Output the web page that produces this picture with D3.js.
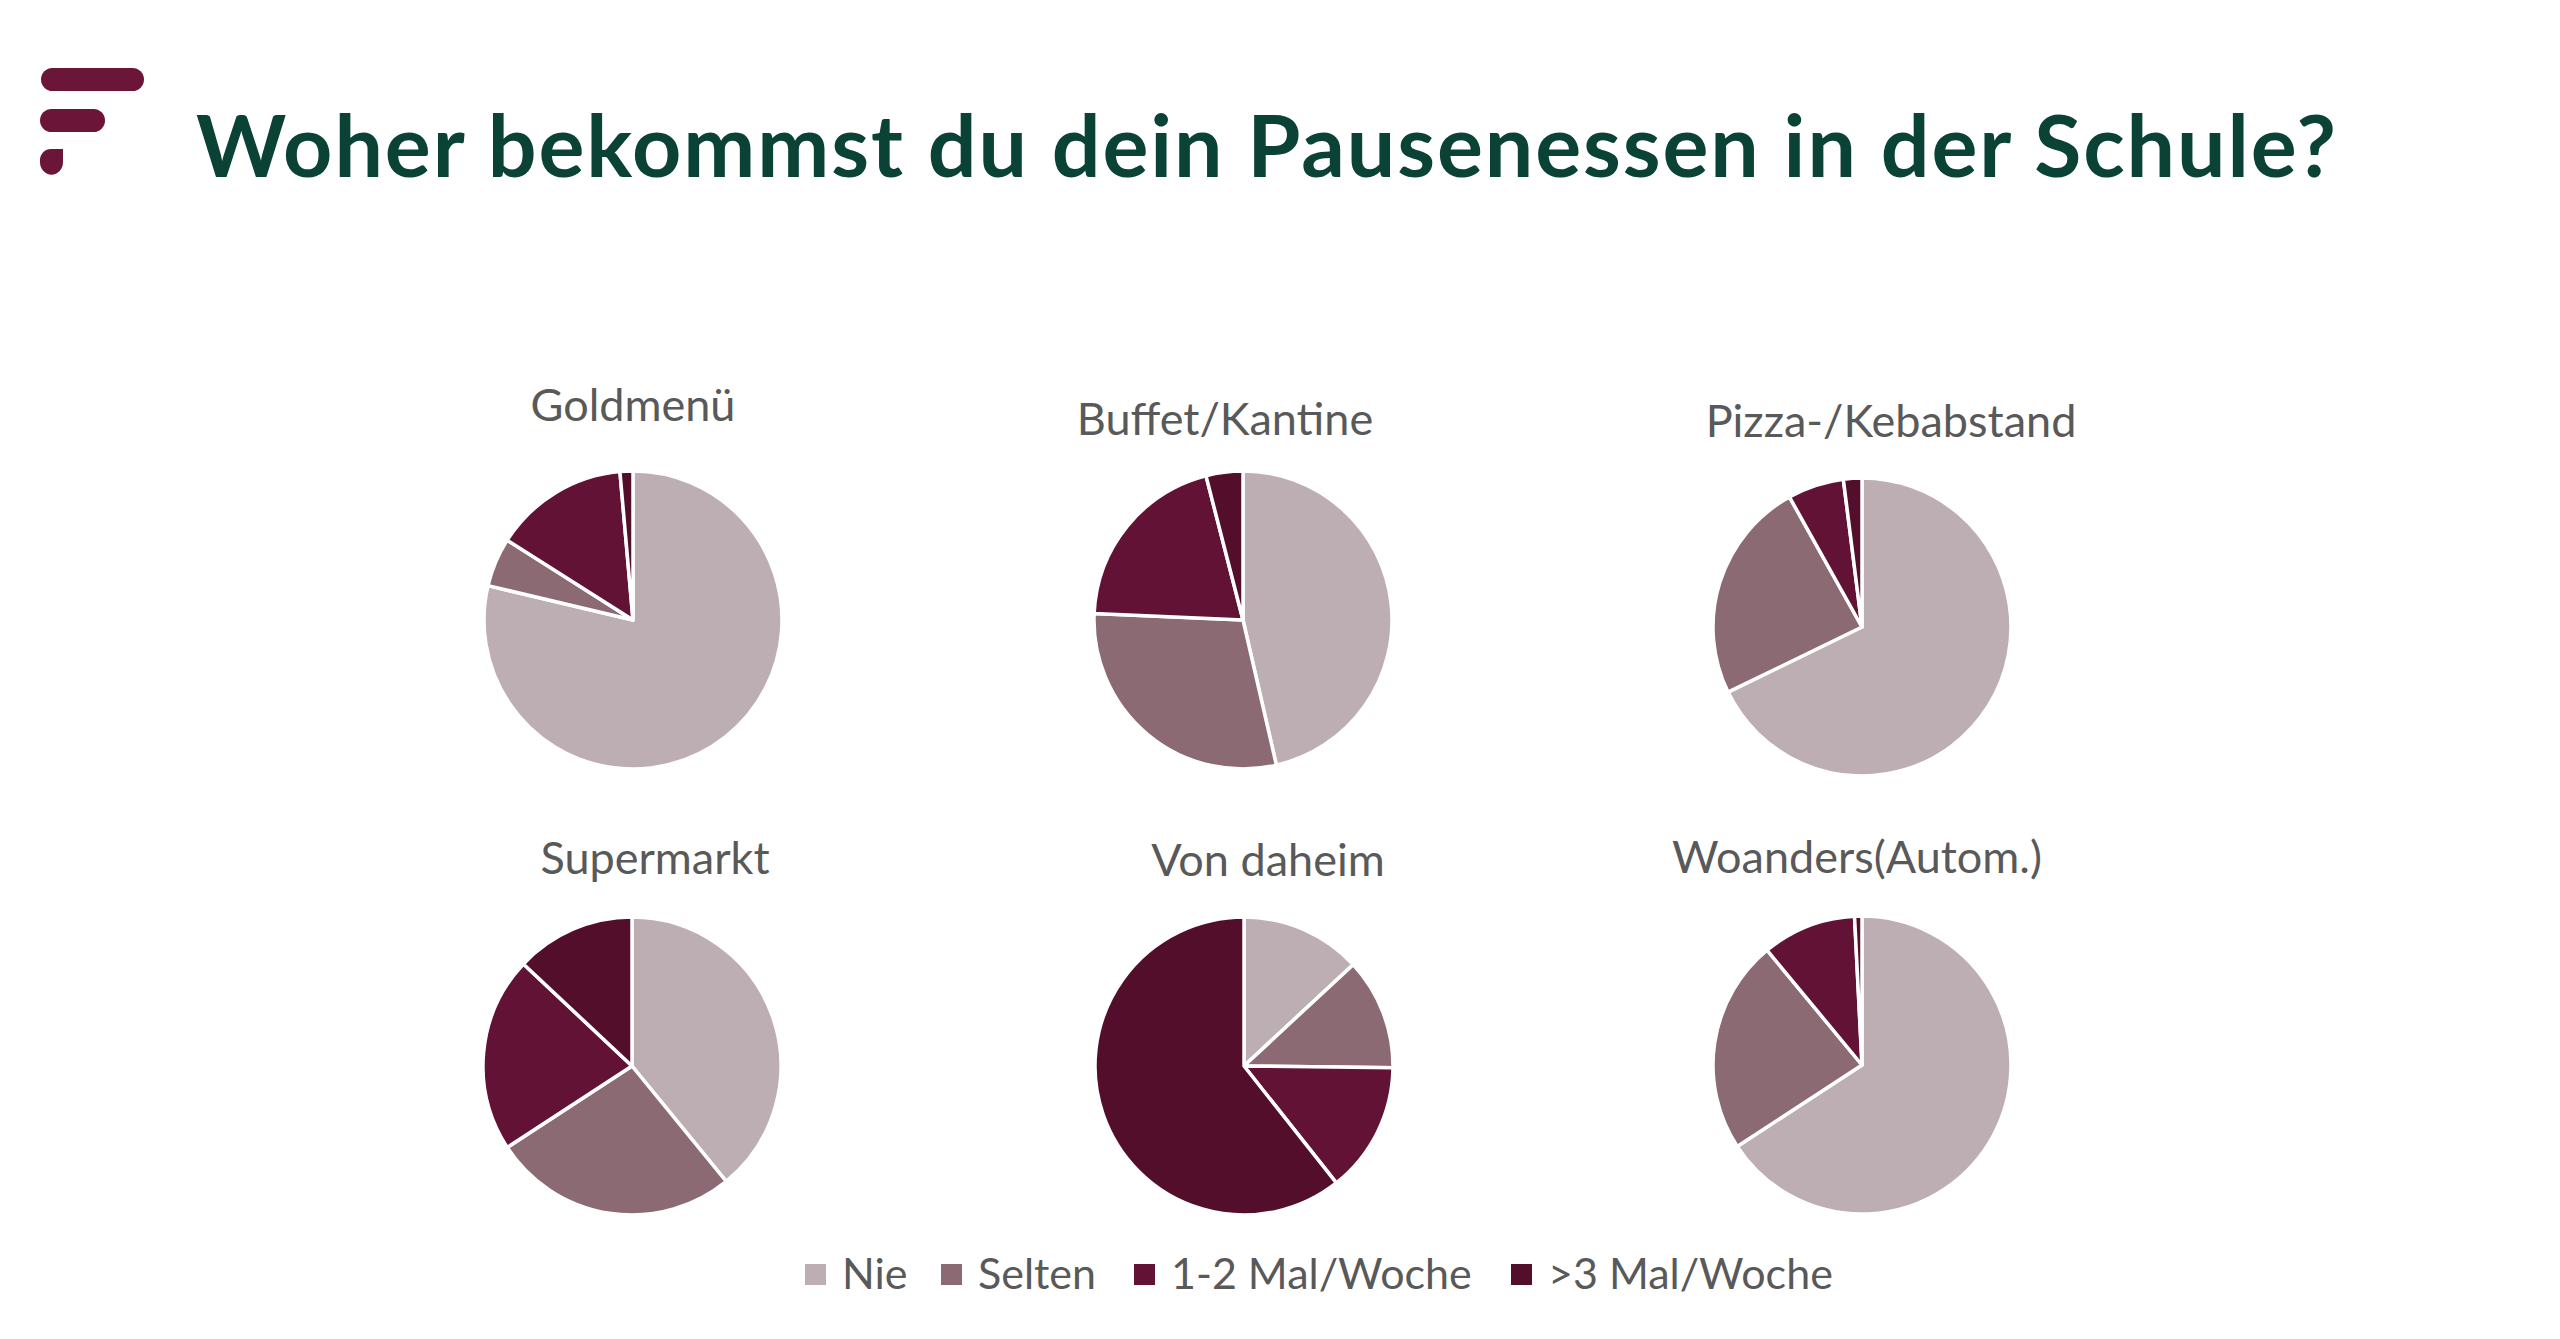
<!DOCTYPE html>
<html lang="de">
<head>
    <meta charset="utf-8" />
    <title>Woher bekommst du dein Pausenessen in der Schule?</title>
    <style type="text/css">
        html, body { margin: 0; padding: 0; background: #fff; }
        .pie-title { font-family: Lato, "Open Sans", sans-serif; fill: #595959; }
        .legend-text { font-family: Lato, "Open Sans", sans-serif; fill: #595959; }
    </style>
    <script type="text/javascript" src="https://cdn.jsdelivr.net/npm/d3@7/dist/d3.min.js"></script>
</head>
<body>
    <div id="chart"></div>

    <script type="text/javascript">
        // data (percent)
        const categories = ['Goldmenü', 'Buffet/Kantine', 'Pizza-/Kebabstand', 'Supermarkt', 'Von daheim', 'Woanders(Autom.)'];
        const seriesNames = ['Nie', 'Selten', '1-2 Mal/Woche', '>3 Mal/Woche'];
        const nie = [78.7, 46.4, 67.8, 39.1, 13.1, 65.8];
        const selten = [5.3, 29.3, 24.1, 26.7, 12.1, 23.2];
        const malWoche12 = [14.6, 20.3, 6.1, 21.2, 14.2, 10.2];
        const malWoche3 = [1.4, 4.0, 2.0, 13.0, 60.7, 0.8];

        const colors = ['#bdaeb3', '#8b6a73', '#621234', '#520e2b'];

        const width = 2560, height = 1339,
            radius = 149;

        // pie centres and title offsets (layout only)
        const centers = [[633, 620], [1243, 620], [1862, 627], [632, 1066], [1244, 1066], [1862, 1065]];
        const titleOffsets = [[0, -199], [-18, -185], [29, -190], [23, -192], [24, -190], [-5, -192]];

        let svg = d3.select('#chart').append('svg')
            .attr('width', width)
            .attr('height', height);

        // logo
        let logo = svg.append('g').attr('fill', '#6b1539');
        logo.append('rect').attr('x', 41).attr('y', 68).attr('width', 103).attr('height', 23).attr('rx', 11.5);
        logo.append('rect').attr('x', 40).attr('y', 109).attr('width', 65).attr('height', 23).attr('rx', 11.5);
        logo.append('path').attr('d', 'M63,149 L63,162 A10,11 0 0 1 40,162 L40,160 A11,11 0 0 1 51,149 Z');

        // main title
        svg.append('text')
            .attr('x', 196)
            .attr('y', 177)
            .attr('textLength', 2140)
            .attr('lengthAdjust', 'spacing')
            .style('font-family', 'Lato, "Open Sans", sans-serif')
            .style('font-weight', 700)
            .style('font-size', '86px')
            .style('fill', '#0b4236')
            .text('Woher bekommst du dein Pausenessen in der Schule?');

        let pie = d3.pie().sort(null).value((d) => d.value);
        let arc = d3.arc().innerRadius(0).outerRadius(radius);

        categories.forEach((cat, i) => {
            let values = [nie[i], selten[i], malWoche12[i], malWoche3[i]].map((v, j) => {
                return {name: seriesNames[j], value: v};
            });
            let g = svg.append('g')
                .attr('transform', 'translate(' + centers[i][0] + ',' + centers[i][1] + ')');

            g.selectAll('path')
                .data(pie(values))
                .enter().append('path')
                .attr('d', arc)
                .attr('fill', (d, j) => colors[j])
                .attr('stroke', '#fff')
                .attr('stroke-width', 3.5)
                .attr('stroke-linejoin', 'round');

            g.append('text')
                .attr('class', 'pie-title')
                .attr('x', titleOffsets[i][0])
                .attr('y', titleOffsets[i][1])
                .attr('text-anchor', 'middle')
                .style('font-size', '45px')
                .text(cat);
        });

        // legend
        const legendX = [805, 941, 1134, 1511];
        let legend = svg.selectAll('.legends')
            .data(seriesNames)
            .enter().append('g')
            .attr('class', 'legends')
            .attr('transform', (d, i) => 'translate(' + legendX[i] + ', 1263)');
        legend.append('rect')
            .attr('x', 0)
            .attr('y', 1)
            .attr('width', 21)
            .attr('height', 21)
            .style('fill', (d, i) => colors[i]);
        legend.append('text')
            .attr('class', 'legend-text')
            .attr('x', 37)
            .attr('y', 26)
            .style('font-size', '43px')
            .text((d) => d);
    </script>
</body>
</html>
